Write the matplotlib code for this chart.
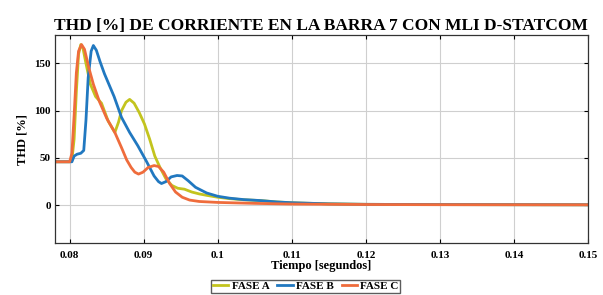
import matplotlib
matplotlib.use("Agg")
import matplotlib.pyplot as plt

# Fase A (amarillo-verde)
t_a = [0.0780, 0.0800, 0.0803, 0.0806, 0.0809, 0.0812, 0.0815, 0.0818, 0.0822, 0.0828,
       0.0835, 0.0843, 0.0852, 0.0861, 0.0866, 0.0870, 0.0876, 0.0881, 0.0887, 0.0894,
       0.0901, 0.0908, 0.0915, 0.0922, 0.0930, 0.0938, 0.0946, 0.0955, 0.0965, 0.0975,
       0.0985, 0.1000, 0.1016, 0.1035, 0.1057, 0.1080, 0.1100, 0.1150, 0.1200, 0.1300,
       0.1400, 0.1500]
thd_a = [46, 46, 48, 70, 120, 160, 170, 166, 150, 128,
         115, 108, 89, 77, 88, 100, 109, 112, 108, 98,
         86, 70, 52, 40, 28, 21, 18, 17, 14, 12,
         10.5, 8.5, 7, 5.8, 5, 3.5, 2.6, 1.5, 1.0, 0.7,
         0.6, 0.5]

# Fase B (azul)
t_b = [0.0780, 0.0803, 0.0806, 0.0810, 0.0815, 0.0819, 0.0822, 0.0825, 0.0829, 0.0832,
       0.0836, 0.0841, 0.0847, 0.0860, 0.0870, 0.0881, 0.0892, 0.0904, 0.0914, 0.0920,
       0.0924, 0.0930, 0.0937, 0.0945, 0.0952, 0.0960, 0.0970, 0.0985, 0.1000, 0.1016,
       0.1035, 0.1057, 0.1080, 0.1100, 0.1150, 0.1200, 0.1300, 0.1400, 0.1500]
thd_b = [46, 46, 52, 54, 55, 58, 90, 135, 163, 169,
         164, 152, 139, 115, 93, 77, 63, 46, 31, 25,
         23, 25, 30, 31.5, 31, 26, 19, 13, 9.5, 7.5,
         6, 5, 3.5, 2.7, 1.5, 1.0, 0.7, 0.6, 0.5]

# Fase C (naranja)
t_c = [0.0780, 0.0800, 0.0803, 0.0806, 0.0809, 0.0812, 0.0816, 0.0820, 0.0826, 0.0832,
       0.0840, 0.0850, 0.0861, 0.0870, 0.0877, 0.0883, 0.0888, 0.0893, 0.0899, 0.0906,
       0.0914, 0.0920, 0.0927, 0.0935, 0.0943, 0.0952, 0.0962, 0.0975, 0.1000, 0.1050,
       0.1100, 0.1200, 0.1300, 0.1500]
thd_c = [46, 46, 55, 95, 140, 163, 170, 165, 145, 128,
         110, 92, 77, 61, 48, 40, 35, 33, 35, 40,
         42, 41, 35, 23, 14, 8.5, 5.5, 4, 3, 2,
         1.3, 0.8, 0.6, 0.5]

x_ticks = [0.08, 0.09, 0.1, 0.11, 0.12, 0.13, 0.14, 0.15]
x_tick_labels = ["0.08", "0.09", "0.1", "0.11", "0.12", "0.13", "0.14", "0.15"]
y_ticks = [0, 50, 100, 150]

plt.rcParams.update({
    "font.family": ["Liberation Serif", "DejaVu Serif"],
    "font.weight": "bold",
})

fig = plt.figure(figsize=(6.03, 2.95), dpi=100)
ax = fig.add_axes([0.091, 0.176, 0.884, 0.705])

ax.plot(t_a, thd_a, color="#c3c41e", lw=2.0, label="FASE A")
ax.plot(t_b, thd_b, color="#2178c0", lw=2.0, label="FASE B")
ax.plot(t_c, thd_c, color="#ef6c3c", lw=2.0, label="FASE C")

ax.set_xlim(0.078, 0.15)
ax.set_ylim(-40, 180)
ax.set_xticks(x_ticks)
ax.set_xticklabels(x_tick_labels)
ax.set_yticks(y_ticks)
ax.tick_params(direction="in", top=True, right=True, labelsize=8, length=3)
ax.tick_params(axis="x", pad=6)
ax.tick_params(axis="y", pad=3)
for lbl in ax.get_xticklabels() + ax.get_yticklabels():
    lbl.set_fontweight("bold")
ax.grid(True, color="#cfcfcf", lw=0.8)
for s in ax.spines.values():
    s.set_color("#333333")
    s.set_linewidth(0.9)

ax.set_title("THD [%] DE CORRIENTE EN LA BARRA 7 CON MLI D-STATCOM",
             fontsize=12.5, fontweight="bold", pad=4)
ax.set_ylabel("THD [%]", fontsize=9, fontweight="bold", labelpad=4)
ax.set_xlabel("Tiempo [segundos]", fontsize=9, fontweight="bold", labelpad=0)

fig.legend(loc="center", bbox_to_anchor=(0.507, 0.03), ncol=3,
           frameon=True, fancybox=False, edgecolor="#333333", handlelength=1.4,
           handletextpad=0.3, columnspacing=0.7, borderpad=0.15,
           prop={"weight": "bold", "size": 8})

fig.savefig("out.png", dpi=100)
